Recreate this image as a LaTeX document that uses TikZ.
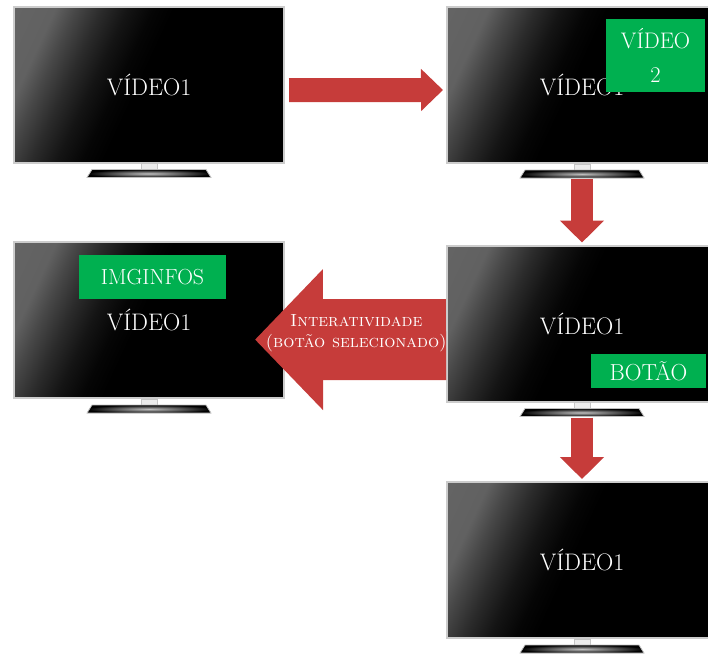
\documentclass[tikz,border=0pt]{standalone}
\usepackage{fontspec}
\usepackage{tikz}
\usepackage{xcolor}
\usetikzlibrary{shapes,arrows.meta,positioning,calc}
\definecolor{verde}{RGB}{0,176,80}
\definecolor{vermelho}{RGB}{198,60,58}
\pgfdeclarehorizontalshading{brilho}{100bp}{color(0bp)=(black!58); color(25bp)=(black!62); color(29bp)=(black!72); color(34bp)=(black!83); color(39bp)=(black!92); color(44bp)=(black!98); color(48bp)=(black); color(100bp)=(black)}

% pe da TV: pescoco + base, e um ponto logo abaixo (#1-pe)
\newcommand{\suporte}[1]{%
  \fill[gray!15, draw=gray!45, line width=0.2mm] ($(#1.south)+(-8,0)$) rectangle ($(#1.south)+(8,10)$);
  \fill[black!70] ($(#1.south)+(-8,7)$) rectangle ($(#1.south)+(8,10)$);
  \shade[inner color=gray!50, outer color=black, draw=gray!50, line width=0.2mm] ($(#1.south)+(-57,6)$) -- ($(#1.south)+(57,6)$) -- ($(#1.south)+(62,14)$) -- ($(#1.south)+(-62,14)$) -- cycle;
  \coordinate (#1-pe) at ($(#1.south)+(0,15)$);
}

\begin{document}
\begin{tikzpicture}[x=0.25mm, y=-0.25mm,
    tela/.style={draw=gray!40, line width=0.5mm, shading=brilho, shading angle=-25, minimum width=67.5mm, minimum height=39mm, inner sep=0pt, text=white, font=\fontsize{17}{19}\selectfont},
    caixa/.style={fill=verde, text=white, inner sep=0pt, align=center},
    seta/.style={vermelho, line width=6mm, -{Triangle[length=5.5mm, width=10.25mm]}},
    setabaixo/.style={vermelho, line width=5.5mm, -{Triangle[length=5.5mm, width=10.75mm]}},
    setagrande/.style={vermelho, line width=20.25mm, -{Triangle[length=17mm, width=34.25mm]}}]
    \useasboundingbox (0,0) rectangle (708,653);
    \clip (0,0) rectangle (708,653);

    % as cinco telas
    \node[tela] (tvA) at (149,84.5) {VÍDEO1\hspace{3mm}};
    \node[tela] (tvB) at (582,85) {VÍDEO1\hspace{3mm}};
    \node[tela] (tvC) at (582,323.5) {VÍDEO1\hspace{3mm}};
    \node[tela] (tvD) at (149,320) {VÍDEO1\hspace{3mm}};
    \node[tela] (tvE) at (582,560) {VÍDEO1\hspace{3mm}};
    \suporte{tvA}
    \suporte{tvB}
    \suporte{tvC}
    \suporte{tvD}
    \suporte{tvE}

    % setas
    \draw[seta] ([xshift=1mm, yshift=-1.4mm]tvA.east) -- ([xshift=-0.75mm, yshift=-1.25mm]tvB.west);
    \draw[setabaixo] (tvB-pe) -- ([yshift=0.5mm]tvC.north);
    \draw[setabaixo] (tvC-pe) -- ([yshift=0.5mm]tvE.north);
    \draw[setagrande] ([yshift=-4mm]tvC.west) -- node[pos=0.47, yshift=1.5mm, text=white, align=center, font=\fontsize{12.5}{15}\selectfont] (rotulo) {\textsc{Interatividade}\\\textsc{(botão selecionado)}} ([xshift=-7.5mm, yshift=-4.9mm]tvD.east);

    % caixas verdes
    \node[caixa, minimum width=24.75mm, minimum height=18.25mm, font=\fontsize{16}{24}\selectfont] (video2) at (655.5,55.5) {VÍDEO\\2};
    \node[caixa, minimum width=36.75mm, minimum height=11mm, font=\fontsize{15.5}{17}\selectfont] (imginfos) at (152.5,277) {IMGINFOS};
    \node[caixa, minimum width=28.75mm, minimum height=8.5mm, font=\fontsize{16.5}{18}\selectfont] (botao) at (648.5,371) {BOTÃO};
\end{tikzpicture}
\end{document}
